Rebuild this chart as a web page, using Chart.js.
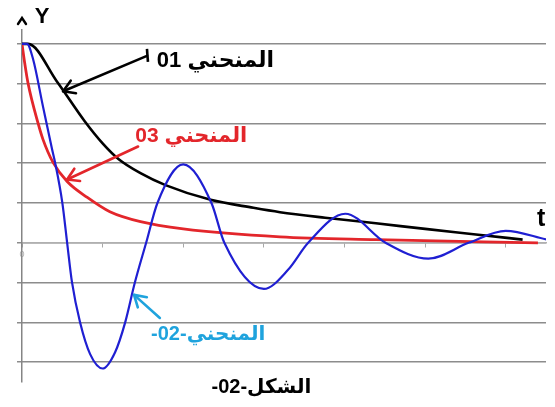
<!DOCTYPE html>
<html>
<head>
<meta charset="utf-8">
<script src="https://cdn.jsdelivr.net/npm/chart.js@4/dist/chart.umd.min.js"></script>
<style>
  html, body { margin: 0; padding: 0; background: #fff; }
  #wrap { width: 555px; height: 407px; position: relative; }
</style>
</head>
<body>
<div id="wrap"><canvas id="c"></canvas></div>
<script>
// Curve 01 (black): slow decay
const tBlack = [0, 0.075, 0.435, 0.78, 1.0, 1.2, 1.47, 1.78, 2.34, 2.87, 3.2, 3.76, 4.39, 5.0, 5.63, 6.21];
const yBlack = [5, 5.0, 4.05, 3.05, 2.5, 2.1, 1.75, 1.45, 1.08, 0.88, 0.77, 0.63, 0.49, 0.35, 0.21, 0.08];

// Curve 02 (blue): damped oscillation
const tBlue = [0, 0.062, 0.137, 0.26, 0.373, 0.41, 0.5, 0.56, 0.62, 0.72, 0.845, 1.0, 1.155, 1.28, 1.40, 1.54, 1.68, 2.0, 2.35, 2.51, 3.0, 3.3, 3.55, 4.01, 4.51, 5.04, 5.54, 6.0, 6.51];
const yBlue = [5, 5.0, 4.62, 3.43, 2.35, 2.02, 1.01, 0, -0.99, -2.0, -2.8, -3.16, -2.75, -2.0, -1.0, 0, 1.0, 1.97, 1.0, 0, -1.16, -0.68, 0, 0.73, 0, -0.40, 0, 0.30, 0.08];

// Curve 03 (red): fast decay
const tRed = [0, 0.035, 0.075, 0.2, 0.26, 0.385, 0.56, 0.81, 1.09, 1.47, 2.0, 3.2, 4.39, 6.4];
const yRed = [5, 4.5, 4.01, 3.0, 2.6, 2.02, 1.54, 1.14, 0.78, 0.53, 0.35, 0.15, 0.08, 0.0];

const xTicks = [0, 1, 2, 3, 4, 5, 6];
const yTicks = [-3, -2, -1, 0, 1, 2, 3, 4, 5];

const curveNames = ['المنحني 01', 'المنحني-02-', 'المنحني 03'];
const figureTitle = 'الشكل-02-';
const axisNames = ['Y', 't'];

const pts = (ts, ys) => ts.map((t, i) => ({ x: t, y: ys[i] }));

// Labels with pointer arrows, placed in data units
const notes = [
  { text: curveNames[0], at: [2.4, 4.57], color: '#000000', size: 22, tail: [1.55, 4.70], tip: [0.51, 3.81], bar: true },
  { text: curveNames[2], at: [2.1, 2.68], color: '#e3262b', size: 21, tail: [1.44, 2.42], tip: [0.56, 1.59] },
  { text: curveNames[1], at: [2.31, -2.30], color: '#1fa3dd', size: 20, tail: [1.71, -1.89], tip: [1.39, -1.31] }
];

function arrow(c, x1, y1, x2, y2, color, w) {
  c.save();
  c.strokeStyle = color; c.lineWidth = w; c.lineCap = 'round'; c.lineJoin = 'round';
  c.beginPath(); c.moveTo(x1, y1); c.lineTo(x2, y2); c.stroke();
  const a = Math.atan2(y2 - y1, x2 - x1), L = 13, s = 0.55;
  c.beginPath();
  c.moveTo(x2 - L * Math.cos(a - s), y2 - L * Math.sin(a - s));
  c.lineTo(x2, y2);
  c.lineTo(x2 - L * Math.cos(a + s), y2 - L * Math.sin(a + s));
  c.stroke();
  c.restore();
}

const annotate = {
  id: 'annotate',
  afterDraw(chart) {
    const c = chart.ctx, xs = chart.scales.x, ys = chart.scales.y;
    const px = t => xs.getPixelForValue(t), py = v => ys.getPixelForValue(v);
    c.save();
    c.direction = 'rtl';
    c.textAlign = 'center';
    c.textBaseline = 'middle';
    notes.forEach(n => {
      const x1 = px(n.tail[0]), y1 = py(n.tail[1]);
      arrow(c, x1, y1, px(n.tip[0]), py(n.tip[1]), n.color, 2.6);
      if (n.bar) {
        c.strokeStyle = n.color; c.lineWidth = 2.6;
        c.beginPath(); c.moveTo(x1, y1 - 7); c.lineTo(x1 + 1, y1 + 6); c.stroke();
      }
      c.fillStyle = n.color;
      c.font = 'bold ' + n.size + 'px "Liberation Sans", "DejaVu Sans", sans-serif';
      c.fillText(n.text, px(n.at[0]), py(n.at[1]));
    });
    c.fillStyle = '#000';
    c.font = 'bold 20px "Liberation Sans", "DejaVu Sans", sans-serif';
    c.fillText(figureTitle, px(2.97), py(-3.64));

    // axis names and the arrow cap on the vertical axis
    c.direction = 'ltr';
    c.font = 'bold 22px "Liberation Sans", sans-serif';
    c.fillText(axisNames[0], px(0.25), py(5.68));
    c.font = 'bold 25px "Liberation Sans", sans-serif';
    c.fillText(axisNames[1], px(6.44), py(0.6));
    const ax = px(0), ay = chart.chartArea.top - 12;
    c.strokeStyle = '#000'; c.lineWidth = 2.4; c.lineCap = 'round';
    c.beginPath(); c.moveTo(ax - 4, ay + 6); c.lineTo(ax, ay); c.lineTo(ax + 4, ay + 6); c.stroke();
    c.restore();
  }
};

const line = (data, color, w) => ({
  data, borderColor: color, borderWidth: w, pointRadius: 0, fill: false,
  cubicInterpolationMode: 'monotone'
});

new Chart(document.getElementById('c'), {
  type: 'line',
  data: {
    datasets: [
      Object.assign(line(pts(tBlue, yBlue), '#1f1fd2', 2.2), { label: curveNames[1] }),
      Object.assign(line(pts(tRed, yRed), '#e3262b', 2.8), { label: curveNames[2] }),
      Object.assign(line(pts(tBlack, yBlack), '#000000', 2.6), { label: curveNames[0] })
    ]
  },
  options: {
    responsive: true,
    maintainAspectRatio: false,
    animation: false,
    layout: { padding: { left: 22, right: 9, top: 30, bottom: 25 } },
    plugins: { legend: { display: false }, tooltip: { enabled: false } },
    scales: {
      x: {
        type: 'linear', min: 0, max: 6.5, position: { y: 0 },
        afterBuildTicks: s => { s.ticks = xTicks.map(v => ({ value: v })); },
        grid: { drawOnChartArea: false, drawTicks: true, tickLength: 4, color: '#a8a8a8', lineWidth: 1 },
        border: { color: '#b0b0b0', width: 1.5 },
        ticks: { callback: v => (v === 0 ? '0' : ''), color: '#b0b0b0', font: { size: 9 }, padding: 2, autoSkip: false, maxRotation: 0 }
      },
      y: {
        type: 'linear', min: -3.5, max: 5.35, position: { x: 0 },
        afterBuildTicks: s => { s.ticks = yTicks.map(v => ({ value: v })); },
        grid: { color: '#8c8c8c', lineWidth: 1.5, tickLength: 4 },
        border: { color: '#858585', width: 1.5 },
        ticks: { display: false }
      }
    }
  },
  plugins: [annotate]
});
</script>
</body>
</html>
